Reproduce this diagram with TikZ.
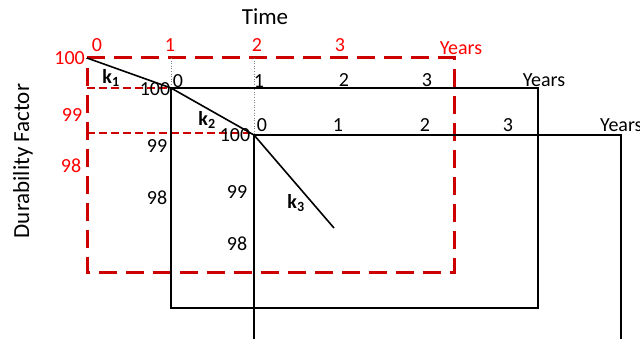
\documentclass[tikz,border=0pt]{standalone}
\usepackage{fontspec}
\setmainfont{Carlito}
\begin{document}
\begin{tikzpicture}[x=1pt,y=-1pt,
  lbl/.style={font=\fontsize{20}{22}\selectfont, inner sep=0pt},
  rlbl/.style={lbl, text={rgb,255:red,255;green,0;blue,0}},
  bigl/.style={font=\fontsize{23}{25}\selectfont, inner sep=0pt},
  redbox/.style={draw={rgb,255:red,204;green,0;blue,0}, line width=3pt, dash pattern=on 18pt off 9pt},
  redthin/.style={draw={rgb,255:red,204;green,0;blue,0}, line width=1.8pt, dash pattern=on 8pt off 4pt},
  blackbox/.style={draw=black, line width=2pt},
  guide/.style={draw=gray, line width=0.6pt, dotted},
  curve/.style={draw=black, line width=1.6pt}]
\useasboundingbox (0,0) rectangle (640,339);
% corners
\coordinate (r1) at (87,58);
\coordinate (r2) at (454,58);
\coordinate (r3) at (454,272);
\coordinate (r4) at (87,272);
\coordinate (b1) at (171,88);
\coordinate (b2) at (538,88);
\coordinate (b3) at (538,308);
\coordinate (b4) at (171,308);
\coordinate (c1) at (254,135);
\coordinate (c2) at (621,135);
\coordinate (c3) at (621,339);
\coordinate (c4) at (254,339);
\coordinate (kend) at (334,228);
\coordinate (g1) at (171,58);
\coordinate (g2) at (254,58);
\coordinate (d1) at (87,88);
\coordinate (d2) at (87,133);
\coordinate (d2e) at (254,133);
% red dashed frame
\draw[redbox] (r1) -- (r2) -- (r3) -- (r4) -- cycle;
\draw[redthin] (d1) -- (b1);
\draw[redthin] (d2) -- (d2e);
% guides
\draw[guide] (g1) -- (b1);
\draw[guide] (g2) -- (c1);
% black frames
\draw[blackbox] (b1) -- (b2) -- (b3) -- (b4) -- cycle;
\draw[blackbox] (c4) -- (c1) -- (c2) -- (c3);
% durability curve
\draw[curve] (r1) -- (b1) -- (c1) -- (kend);
% titles
\node[bigl] (time) at (265,17) {Time};
\node[bigl, rotate=90] (dur) at (23,161) {Durability Factor};
% red labels
\node[rlbl] (rt0) at (97,45) {0};
\node[rlbl] (rt1) at (170,45) {1};
\node[rlbl] (rt2) at (257,45) {2};
\node[rlbl] (rt3) at (340,45) {3};
\node[rlbl] (ry) at (461,48) {Years};
\node[rlbl, anchor=east] (r100) at (85,58) {100};
\node[rlbl] (r99) at (72,115) {99};
\node[rlbl] (r98) at (71,166) {98};
% box 2 labels
\node[lbl] (bt0) at (178,81) {0};
\node[lbl] (bt1) at (259,81) {1};
\node[lbl] (bt2) at (344,80) {2};
\node[lbl] (bt3) at (427,80) {3};
\node[lbl] (by) at (544,80) {Years};
\node[lbl] (b100) at (155,89) {100};
\node[lbl] (b99) at (157,146) {99};
\node[lbl] (b98) at (157,198) {98};
% box 3 labels
\node[lbl] (ct0) at (262,125) {0};
\node[lbl] (ct1) at (338,125) {1};
\node[lbl] (ct2) at (425,125) {2};
\node[lbl] (ct3) at (508,125) {3};
\node[lbl, anchor=west] (cy) at (600,125) {Years};
\node[lbl] (c100) at (235,135) {100};
\node[lbl] (c99) at (237,192) {99};
\node[lbl] (c98) at (237,244) {98};
% rate labels
\node[lbl] (k1) at (111,78) {\textbf{k}$_{\mathbf{1}}$};
\node[lbl] (k2) at (207,120) {\textbf{k}$_{\mathbf{2}}$};
\node[lbl] (k3) at (296,203) {\textbf{k}$_{\mathbf{3}}$};
\end{tikzpicture}
\end{document}
